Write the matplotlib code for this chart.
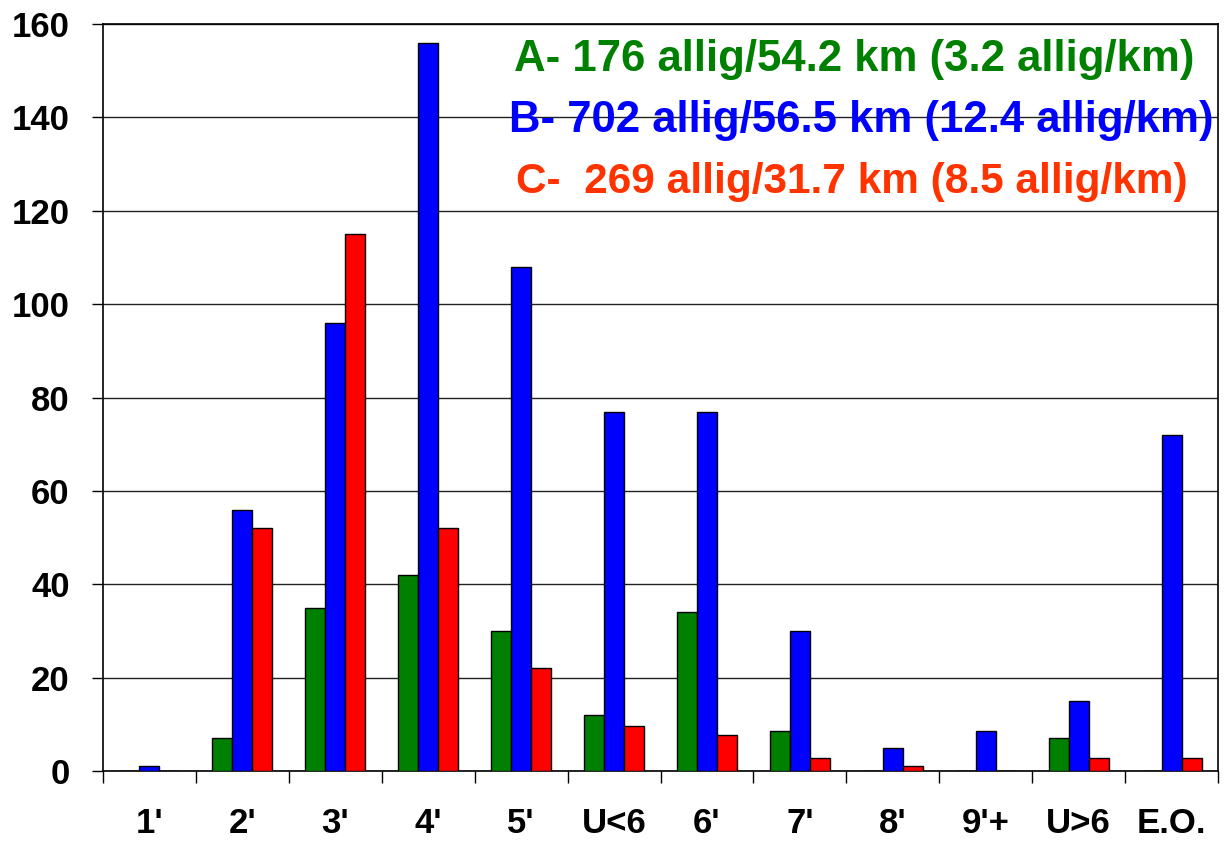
import numpy as np
import matplotlib
matplotlib.use('Agg')
import matplotlib.pyplot as plt
from matplotlib.ticker import FixedLocator

plt.rcParams['font.family'] = ['Liberation Sans', 'DejaVu Sans']

categories = ["1'", "2'", "3'", "4'", "5'", "U<6", "6'", "7'", "8'", "9'+", "U>6", "E.O."]
site_a = [0, 7, 35, 42, 30, 12, 34, 8.6, 0, 0, 7, 0]
site_b = [1, 56, 96, 156, 108, 77, 77, 30, 5, 8.6, 15, 72]
site_c = [0, 52, 115, 52, 22, 9.7, 7.7, 2.7, 1, 0, 2.7, 2.7]

notes = ["A- 176 allig/54.2 km (3.2 allig/km)",
         "B- 702 allig/56.5 km (12.4 allig/km)",
         "C-  269 allig/31.7 km (8.5 allig/km)"]
note_colors = ['#008000', '#0000FF', '#FF3300']

fig = plt.figure(figsize=(12.26, 8.42), dpi=100)
ax = fig.add_axes([103/1226, 1-771/842, (1218-103)/1226, (771-24)/842])

x = np.arange(len(categories))
w = 0.215
for off, vals, col in [(-w, site_a, '#008000'), (0, site_b, '#0000FF'), (w, site_c, '#FF0000')]:
    ax.bar(x + off, vals, width=w, color=col, edgecolor='black', linewidth=1, zorder=3)

ax.set_xlim(-0.5, len(categories) - 0.5)
ax.set_ylim(0, 160)
ax.set_yticks(np.arange(0, 161, 20))
ax.yaxis.grid(True, color='#222222', linewidth=1.0, zorder=0)
ax.set_axisbelow(True)

# category separators as major ticks, labels on minor ticks
ax.xaxis.set_major_locator(FixedLocator(np.arange(-0.5, len(categories), 1.0)))
ax.xaxis.set_minor_locator(FixedLocator(x))
ax.set_xticklabels([])
ax.set_xticklabels(categories, minor=True)
ax.tick_params(axis='x', which='major', length=8.5, width=1, direction='out')
ax.tick_params(axis='x', which='minor', length=0, pad=26, labelsize=25)
ax.tick_params(axis='y', length=8, width=1, pad=16, labelsize=25)
for lab in ax.get_xticklabels(minor=True) + ax.get_yticklabels():
    lab.set_fontweight('bold')

for s in ax.spines.values():
    s.set_linewidth(1.2)
    s.set_color('black')

starts = [514, 509, 516]
baselines = [71, 132, 193]
sizes = [31.5, 31.5, 30.5]
for txt, col, x0, yb, fs in zip(notes, note_colors, starts, baselines, sizes):
    fig.text(x0/1226, 1 - yb/842, txt, color=col, fontsize=fs, fontweight='bold',
             ha='left', va='baseline')

fig.savefig('out.png', dpi=100)
